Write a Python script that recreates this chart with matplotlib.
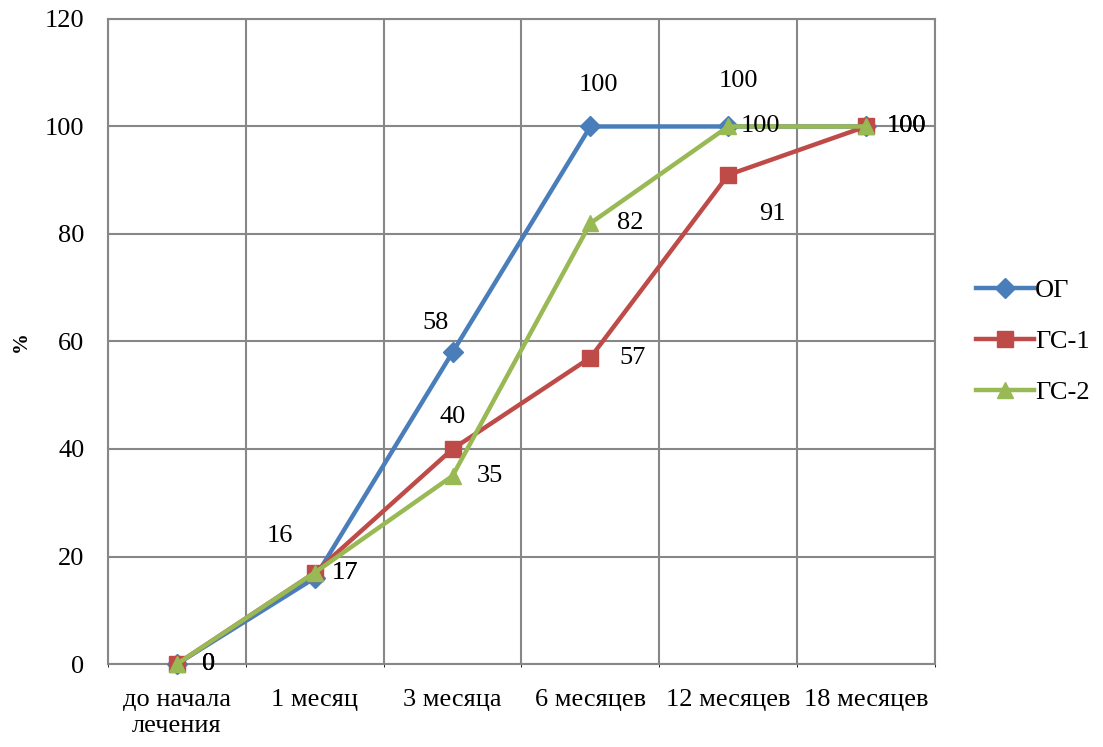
import matplotlib.pyplot as plt

plt.rcParams['font.family'] = ['Liberation Serif', 'DejaVu Serif']

categories = ['до начала\nлечения', '1 месяц', '3 месяца', '6 месяцев', '12 месяцев', '18 месяцев']
og = [0, 16, 58, 100, 100, 100]
gs1 = [0, 17, 40, 57, 91, 100]
gs2 = [0, 17, 35, 82, 100, 100]

# label offsets in points (dx, dy) for each value
og_off = [(23, 0), (-25, 30), (-12, 21), (6, 30), (7, 33), (29, 0)]
gs1_off = [(23, 0), (22, 0), (0, 23), (30, 0), (32, -28), (29, 0)]
gs2_off = [(23, 0), (22, 0), (27, 0), (29, 0), (23, 0), (29, 0)]

series = [
    ('ОГ', og, og_off, '#4A7EBB', 'D', 10),
    ('ГС-1', gs1, gs1_off, '#BE4B48', 's', 11),
    ('ГС-2', gs2, gs2_off, '#98B954', '^', 12),
]

fs = 19

fig = plt.figure(figsize=(11.03, 7.47), dpi=100)
ax = fig.add_axes([0.0979, 0.1111, 0.7498, 0.8635])

x = list(range(len(categories)))
for name, vals, offs, color, marker, ms in series:
    ax.plot(x, vals, color=color, lw=3.2, marker=marker, ms=ms, label=name,
            clip_on=False, zorder=3)

for name, vals, offs, color, marker, ms in series:
    for xi, v, (dx, dy) in zip(x, vals, offs):
        ax.annotate(str(v), (xi, v), xytext=(dx, dy), textcoords='offset points',
                    ha='center', va='center', fontsize=fs, zorder=5)

ax.set_xlim(-0.5, len(categories) - 0.5)
ax.set_ylim(0, 120)
ax.set_yticks(range(0, 121, 20))
ax.set_xticks(x)
ax.set_xticklabels(categories, fontsize=fs, linespacing=1.25)
ax.tick_params(axis='y', labelsize=fs, length=0, pad=17)
ax.tick_params(axis='x', length=0, pad=18)

# gridlines on category boundaries
ax.set_xticks([i - 0.5 for i in range(len(categories) + 1)], minor=True)
ax.grid(True, which='minor', axis='x', color='#878787', lw=1.5)
ax.grid(True, which='major', axis='y', color='#878787', lw=1.5)
ax.set_axisbelow(True)
for s in ax.spines.values():
    s.set_color('#878787')
    s.set_linewidth(1.5)

fig.text(0.019, 0.543, '%', fontsize=15, fontweight='bold', rotation=90,
         ha='center', va='center')

ax.legend(loc='center left', bbox_to_anchor=(1.03, 0.5), frameon=False,
          fontsize=fs, handlelength=2.2, handletextpad=0.05, labelspacing=1.05,
          borderaxespad=0.2)

fig.savefig('out.png', dpi=100)
